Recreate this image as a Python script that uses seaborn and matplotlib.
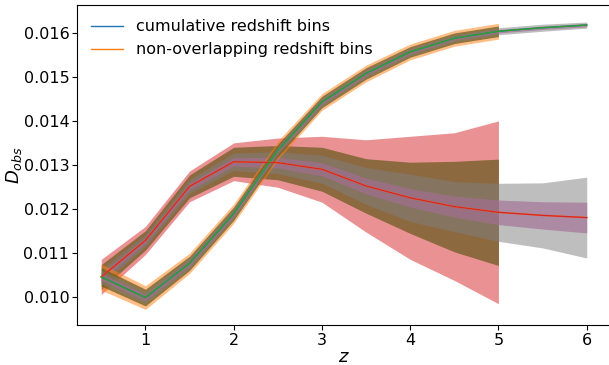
import numpy as np
import pandas as pd
import matplotlib
matplotlib.use('Agg')
import matplotlib.pyplot as plt
import seaborn as sns

# redshift grid
z_all = [0.5, 1.0, 1.5, 2.0, 2.5, 3.0, 3.5, 4.0, 4.5, 5.0, 5.5, 6.0]
z_short = z_all[:10]

# central values
D_cum = [0.01045, 0.00998, 0.01076, 0.01189, 0.01333, 0.01443,
         0.01508, 0.01557, 0.01588, 0.01604, 0.01612, 0.01618]
D_non = [0.01045, 0.01128, 0.01251, 0.01307, 0.01305, 0.01290,
         0.01252, 0.01225, 0.01205, 0.01192, 0.01185, 0.01180]

# half widths of the bands, cumulative bins
cum_outer_A = [0.00030, 0.00027, 0.00023, 0.00022, 0.00021, 0.00019, 0.00019, 0.00018, 0.00018, 0.00018]
cum_inner_A = [0.00021, 0.00019, 0.00016, 0.00015, 0.00014, 0.00013, 0.00013, 0.00012, 0.00012, 0.00012]
cum_outer_B = [0.00016, 0.00014, 0.00012, 0.00011, 0.00010, 0.00010, 0.00009, 0.00009, 0.00008, 0.00008, 0.00008, 0.00007]
cum_inner_B = [0.00008, 0.00007, 0.00006, 0.00006, 0.00005, 0.00005, 0.00005, 0.00004, 0.00004, 0.00004, 0.00004, 0.00004]

# half widths of the bands, non-overlapping bins
non_outer_A = [0.00040, 0.00032, 0.00035, 0.00043, 0.00056, 0.00075, 0.00105, 0.00140, 0.00168, 0.00208]
non_inner_A = [0.00028, 0.00022, 0.00026, 0.00033, 0.00039, 0.00050, 0.00062, 0.00081, 0.00103, 0.00121]
non_outer_B = [0.00018, 0.00014, 0.00016, 0.00020, 0.00025, 0.00032, 0.00042, 0.00054, 0.00057, 0.00066, 0.00074, 0.00092]
non_inner_B = [0.00009, 0.00007, 0.00008, 0.00010, 0.00012, 0.00015, 0.00018, 0.00021, 0.00024, 0.00028, 0.00031, 0.00035]

plt.rcParams['font.family'] = ['DejaVu Sans']
fs = 11.5

df = pd.DataFrame({'z': z_all, 'cum': D_cum, 'non': D_non})

fig = plt.figure(figsize=(6.09, 3.65), dpi=100)
ax = fig.add_axes([77/609, 40/365, 534/609, 320/365])

# legend lines
sns.lineplot(data=df, x='z', y='cum', ax=ax, color='C0', lw=1.0, label='cumulative redshift bins')
sns.lineplot(data=df, x='z', y='non', ax=ax, color='C1', lw=1.0, label='non-overlapping redshift bins')

brown = (110/255, 92/255, 35/255)
purple = (165/255, 110/255, 150/255)

def bands(center, outer_A, inner_A, outer_B, inner_B, col_A):
    c = np.array(center)
    n = len(outer_A)
    ax.fill_between(z_short, c[:n] - outer_A, c[:n] + outer_A, color=col_A, alpha=0.5, lw=0)
    ax.fill_between(z_short, c[:n] - inner_A, c[:n] + inner_A, color=brown, alpha=0.75, lw=0)
    ax.fill_between(z_all, c - outer_B, c + outer_B, color='C7', alpha=0.5, lw=0)
    ax.fill_between(z_all, c - inner_B, c + inner_B, color=purple, alpha=0.65, lw=0)

bands(D_non, non_outer_A, non_inner_A, non_outer_B, non_inner_B, 'C3')
sns.lineplot(data=df, x='z', y='non', ax=ax, color='C3', lw=1.0, legend=False)
bands(D_cum, cum_outer_A, cum_inner_A, cum_outer_B, cum_inner_B, 'C1')
sns.lineplot(data=df, x='z', y='cum', ax=ax, color='C2', lw=1.0, legend=False)

ax.set_xlim(0.225, 6.275)
ax.set_ylim(0.009356, 0.016637)
ax.set_yticks([0.010, 0.011, 0.012, 0.013, 0.014, 0.015, 0.016])
ax.set_xticks([1, 2, 3, 4, 5, 6])
ax.tick_params(labelsize=11.5, pad=2)
ax.set_xlabel('$z$', fontsize=13)
ax.set_ylabel('$D_{obs}$', fontsize=13)
ax.xaxis.set_label_coords(0.5, -0.072)
ax.yaxis.set_label_coords(-0.1, 0.5)

ax.legend(loc='upper left', frameon=False, fontsize=fs)

fig.savefig('out.png', dpi=100)
